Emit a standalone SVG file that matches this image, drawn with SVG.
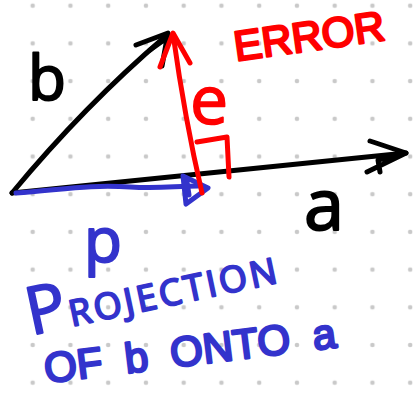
<svg xmlns="http://www.w3.org/2000/svg" width="413" height="394" viewBox="0 0 413 394">
<defs>
<pattern id="dots" x="13.8" y="-13.15" width="37.75" height="37.7" patternUnits="userSpaceOnUse">
<circle cx="18.9" cy="18.85" r="2.3" fill="#c9c9c9"/>
</pattern>
</defs>
<style>
.ink{fill:none;stroke-width:5;stroke-linecap:round;stroke-linejoin:round}
.k{stroke:#000}.r{stroke:#f00}.bl{stroke:#3333cc}
.t{font-family:"Open Sans","Liberation Sans",sans-serif;stroke-linejoin:round}
.l{font-family:"Liberation Sans",Arial,sans-serif;stroke-linejoin:round}
</style>
<rect width="413" height="394" fill="#fff"/>
<rect width="413" height="394" fill="url(#dots)"/>
<g id="connectors">
<path class="ink k" d="M12,193 Q85,105 166,36"/>
<path class="ink k" d="M136,45 L168,33 L162,66 M150,50 L164,40" fill="#000"/>
<path class="ink k" d="M12,193 L406,153"/>
<path class="ink k" d="M370,141 L406,153 L367,172 M380,172 L378,160 L398,155"/>
<path class="ink bl" d="M16,193 C60,190 90,184 130,187 C160,189 175,186 198,186"/>
<path class="ink bl" d="M183,176 L208,188 L186,204 Z M187,182 L189,195"/>
<path class="ink r" d="M202,193 Q185,120 173,34"/>
<path class="ink r" d="M160,67 L173,33 L190,63"/>
<path class="ink r" d="M197,142 L227,137 L229,177"/>
</g>
<g id="label-b"><text class="t" x="28" y="100" font-size="62" fill="#000" stroke="#000" stroke-width="2">b</text></g>
<g id="label-a"><text class="t" x="304" y="230" font-size="72" fill="#000" stroke="#000" stroke-width="2">a</text></g>
<g id="label-e"><text class="t" x="190" y="124" font-size="68" fill="#f00" stroke="#f00" stroke-width="1.5">e</text></g>
<g id="label-error" transform="rotate(-8 236 61)"><text class="l" x="236" y="61" font-size="42" fill="#f00" stroke="#f00" stroke-width="2.5">ERROR</text></g>
<g id="label-p"><text class="t" x="84" y="262" font-size="62" fill="#3333cc" stroke="#3333cc" stroke-width="2">p</text></g>
<g id="label-projection" transform="rotate(-12 36 330)"><text class="t" fill="#3333cc" stroke="#3333cc" stroke-width="2"><tspan x="30" y="334" font-size="66">P</tspan><tspan font-size="36" dx="2" letter-spacing="3">ROJECTION</tspan></text></g>
<g id="label-of-b-onto-a" transform="rotate(-7 46 383)"><text class="l" x="46" y="383" font-size="42" word-spacing="11" fill="#3333cc" stroke="#3333cc" stroke-width="2.5">OF b ONTO a</text></g>
</svg>
